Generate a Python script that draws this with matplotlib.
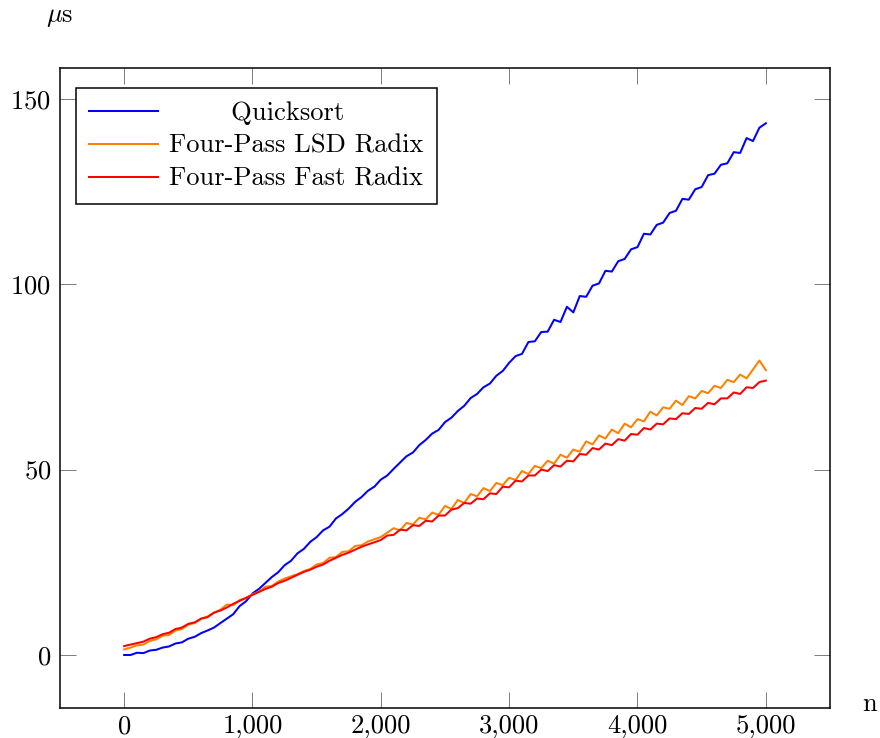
import matplotlib
matplotlib.use('Agg')
import matplotlib.pyplot as plt
from matplotlib.ticker import FuncFormatter

plt.rcParams['font.family'] = 'cmr10'
plt.rcParams['mathtext.fontset'] = 'cm'
plt.rcParams['axes.formatter.use_mathtext'] = True

# input sizes, step 50
n = list(range(0, 5001, 50))

quicksort = [
    0.0, 0.0, 0.6, 0.5, 1.2, 1.4, 2.0, 2.3, 3.1, 3.4,
    4.4, 4.9, 5.9, 6.6, 7.4, 8.6, 9.8, 11.0, 13.2, 14.5,
    16.6, 17.8, 19.4, 21.0, 22.3, 24.2, 25.4, 27.4, 28.6, 30.5,
    31.8, 33.6, 34.6, 36.8, 38.0, 39.5, 41.3, 42.6, 44.3, 45.4,
    47.3, 48.4, 50.2, 51.9, 53.6, 54.6, 56.6, 58.0, 59.7, 60.7,
    62.8, 64.0, 65.8, 67.2, 69.3, 70.4, 72.2, 73.2, 75.3, 76.6,
    78.8, 80.6, 81.2, 84.4, 84.6, 87.1, 87.2, 90.4, 89.8, 93.9,
    92.4, 96.8, 96.6, 99.6, 100.2, 103.6, 103.4, 106.2, 106.8, 109.4,
    110.0, 113.6, 113.4, 116.0, 116.6, 119.2, 119.8, 123.0, 122.8, 125.6,
    126.2, 129.4, 129.8, 132.2, 132.6, 135.6, 135.4, 139.4, 138.6, 142.2,
    143.4,
]

lsd_radix = [
    1.5, 2.0, 2.6, 2.8, 3.8, 4.2, 5.2, 5.4, 6.6, 7.0,
    8.2, 8.6, 9.8, 10.4, 11.4, 12.2, 13.6, 13.4, 14.8, 15.4,
    16.4, 17.0, 18.4, 18.6, 19.8, 20.6, 21.2, 21.8, 22.6, 23.2,
    24.4, 24.8, 26.2, 26.4, 27.8, 28.0, 29.4, 29.6, 30.6, 31.2,
    31.8, 33.0, 34.2, 33.6, 35.6, 35.2, 37.0, 36.6, 38.4, 37.8,
    40.2, 39.4, 41.8, 41.0, 43.4, 42.8, 45.0, 44.2, 46.4, 45.8,
    47.8, 47.2, 49.6, 48.8, 51.0, 50.4, 52.4, 51.6, 54.0, 53.2,
    55.4, 54.8, 57.6, 56.8, 59.2, 58.4, 60.8, 59.8, 62.4, 61.4,
    63.6, 63.0, 65.6, 64.6, 66.8, 66.4, 68.6, 67.4, 69.8, 69.2,
    71.2, 70.6, 72.6, 72.0, 74.2, 73.6, 75.6, 74.6, 77.0, 79.4,
    76.8,
]

fast_radix = [
    2.4, 2.8, 3.2, 3.6, 4.4, 4.8, 5.6, 6.0, 7.0, 7.4,
    8.4, 8.8, 9.8, 10.2, 11.4, 12.0, 12.8, 13.8, 14.6, 15.4,
    16.2, 17.0, 17.8, 18.4, 19.4, 20.0, 20.8, 21.6, 22.4, 23.0,
    23.8, 24.4, 25.4, 26.2, 27.0, 27.6, 28.4, 29.2, 29.8, 30.4,
    31.0, 32.2, 32.4, 33.8, 33.6, 35.0, 34.8, 36.2, 36.0, 37.6,
    37.6, 39.2, 39.6, 41.0, 40.8, 42.2, 42.0, 43.6, 43.4, 45.4,
    45.2, 47.0, 46.8, 48.4, 48.4, 50.0, 49.6, 51.2, 50.8, 52.4,
    52.2, 54.2, 54.0, 55.8, 55.4, 57.0, 56.6, 58.2, 57.8, 59.6,
    59.4, 61.2, 60.8, 62.4, 62.2, 63.8, 63.6, 65.2, 65.0, 66.6,
    66.4, 68.0, 67.6, 69.2, 69.2, 70.8, 70.4, 72.2, 72.0, 73.6,
    74.0,
]

x_ticks = [0, 1000, 2000, 3000, 4000, 5000]
y_ticks = [0, 50, 100, 150]

DPI = 182
FS = 10.5
fig = plt.figure(figsize=(881 / DPI, 738 / DPI), dpi=DPI)
ax = fig.add_axes([60 / 881, 30 / 738, 770 / 881, 640 / 738])

ax.plot(n, quicksort, color='#0000ff', lw=0.8, label='       Quicksort')
ax.plot(n, lsd_radix, color='#ff8000', lw=0.8, label='Four-Pass LSD Radix')
ax.plot(n, fast_radix, color='#ff0000', lw=0.8, label='Four-Pass Fast Radix')

ax.set_xlim(-500, 5500)
ax.set_ylim(-14.3, 158.3)
ax.set_xticks(x_ticks)
ax.set_yticks(y_ticks)
ax.xaxis.set_major_formatter(FuncFormatter(lambda v, p: f'{v:,.0f}'))
ax.tick_params(direction='in', top=True, right=True, length=6.5, width=0.4,
               color='#808080', labelsize=FS, pad=3.5)
ax.tick_params(axis='x', pad=2.5)
for s in ax.spines.values():
    s.set_linewidth(0.6)

leg = ax.legend(loc='upper left', bbox_to_anchor=(0.021, 0.969), fontsize=FS,
                frameon=True, fancybox=False, framealpha=1, edgecolor='black',
                handlelength=2.6, handletextpad=0.4, labelspacing=0.35,
                borderpad=0.5, borderaxespad=0)
leg.get_frame().set_linewidth(0.6)

fig.text(60 / 881, 1 - 17 / 738, r'$\mu$s', ha='center', va='center', fontsize=FS)
fig.text(870 / 881, 1 - 704 / 738, 'n', ha='center', va='center', fontsize=FS)

fig.savefig('out.png', dpi=DPI)
